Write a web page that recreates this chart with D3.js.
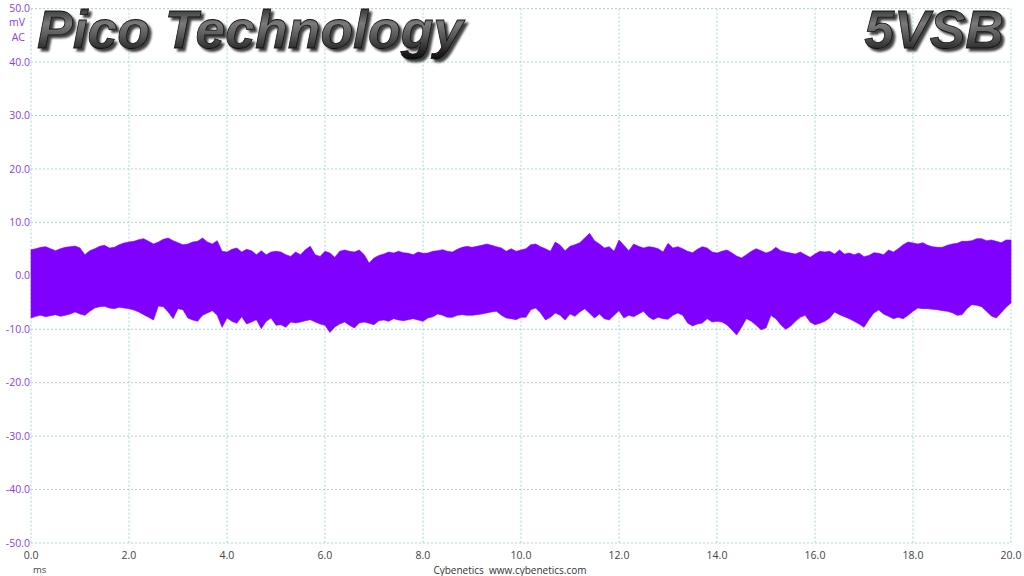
<!DOCTYPE html>
<html>
<head>
<meta charset="utf-8">
<script src="https://cdn.jsdelivr.net/npm/d3@7"></script>
<style>
  body { margin: 0; background: #fff; }
  svg { display: block; font-family: "Open Sans", "DejaVu Sans", sans-serif; }
</style>
</head>
<body>
<div id="chart"></div>
<script>
// time axis step 0.1 ms, 0 .. 20 ms
var timeStep = 0.1;

// upper envelope of the ripple band (mV)
var upper = [
  4.89, 5.07, 5.32, 5.45, 5.07, 4.70, 5.07, 5.32, 5.45, 5.57,
  5.20, 3.95, 4.70, 5.07, 5.51, 5.70, 5.20, 5.32, 5.82, 6.14,
  6.32, 6.45, 6.76, 6.95, 6.45, 5.95, 6.32, 6.82, 7.07, 6.58,
  6.20, 5.82, 5.95, 6.32, 6.45, 7.07, 6.32, 5.95, 6.58, 4.58,
  4.45, 4.95, 5.20, 4.45, 4.95, 4.70, 3.95, 4.70, 3.95, 4.45,
  4.58, 4.45, 3.95, 3.63, 4.45, 3.95, 4.89, 5.51, 3.95, 3.63,
  4.58, 4.26, 3.45, 4.58, 4.83, 4.58, 4.45, 4.83, 3.95, 2.38,
  3.32, 3.82, 4.07, 4.45, 4.26, 4.58, 4.32, 4.20, 3.95, 4.45,
  4.20, 4.26, 4.58, 4.70, 4.89, 4.58, 4.45, 4.95, 5.32, 5.51,
  5.32, 5.51, 5.70, 5.95, 5.70, 5.45, 5.20, 4.58, 5.07, 4.58,
  4.83, 5.07, 5.82, 5.95, 5.45, 5.07, 4.58, 6.32, 5.70, 4.70,
  5.51, 5.82, 6.20, 7.07, 7.95, 6.58, 5.95, 5.20, 5.45, 4.58,
  6.70, 5.70, 4.70, 5.95, 5.51, 5.20, 5.45, 5.32, 5.07, 4.45,
  6.07, 5.20, 5.45, 5.07, 4.58, 4.32, 4.95, 5.45, 5.20, 4.45,
  4.26, 4.58, 4.83, 4.32, 3.70, 3.32, 3.95, 4.58, 5.07, 4.70,
  4.26, 4.58, 5.32, 4.70, 4.45, 4.26, 4.07, 4.45, 3.95, 3.45,
  4.07, 4.58, 4.45, 4.58, 4.07, 4.83, 4.07, 4.26, 3.95, 4.26,
  3.57, 3.82, 4.32, 4.20, 3.95, 4.83, 4.45, 5.07, 5.82, 6.32,
  6.14, 5.95, 6.20, 5.70, 5.45, 5.32, 5.32, 5.70, 5.95, 6.07,
  6.45, 6.45, 6.58, 6.95, 6.95, 6.58, 6.70, 6.45, 6.20, 6.70,
  6.70
];

// lower envelope of the ripple band (mV)
var lower = [
  -7.90, -7.59, -7.40, -7.65, -7.46, -7.27, -7.59, -7.40, -7.15, -6.77,
  -7.15, -7.40, -6.65, -6.03, -5.78, -5.72, -6.03, -6.15, -5.90, -6.03,
  -6.15, -6.40, -6.77, -7.27, -7.77, -8.27, -5.65, -5.78, -6.77, -8.02,
  -6.15, -6.34, -7.90, -8.27, -8.52, -7.40, -6.96, -6.52, -7.40, -9.64,
  -7.90, -8.52, -8.89, -7.65, -9.02, -8.65, -8.21, -9.89, -8.52, -7.90,
  -9.27, -9.14, -9.64, -8.65, -8.83, -8.65, -8.40, -8.21, -8.65, -9.02,
  -9.27, -10.6, -9.60, -9.02, -8.65, -9.27, -9.77, -8.83, -8.65, -8.89,
  -9.14, -8.40, -8.27, -8.52, -8.02, -8.27, -8.40, -8.21, -8.02, -8.27,
  -8.52, -7.90, -7.65, -7.15, -7.40, -7.77, -7.77, -7.40, -7.27, -7.40,
  -7.40, -7.27, -7.15, -6.96, -6.77, -6.65, -7.40, -7.90, -8.02, -8.21,
  -7.77, -7.77, -6.34, -6.03, -6.96, -8.27, -7.77, -6.96, -7.40, -8.27,
  -7.15, -7.59, -6.77, -6.15, -7.02, -7.90, -7.15, -8.02, -8.27, -7.40,
  -6.52, -7.90, -7.40, -7.65, -7.15, -6.65, -7.65, -8.21, -7.77, -8.02,
  -8.15, -7.40, -6.96, -7.40, -8.83, -9.39, -9.02, -8.83, -8.02, -8.65,
  -8.52, -8.65, -9.14, -10.08, -11.1, -9.64, -8.02, -8.52, -9.27, -10.08,
  -9.77, -7.40, -8.02, -9.14, -10.02, -9.45, -8.52, -7.77, -7.40, -8.65,
  -9.14, -8.89, -8.52, -7.90, -6.77, -7.27, -7.65, -8.02, -8.52, -9.02,
  -9.64, -8.21, -6.96, -6.40, -7.15, -7.59, -8.02, -7.77, -8.02, -7.40,
  -6.65, -6.03, -6.15, -6.15, -6.27, -6.34, -6.52, -6.65, -6.90, -7.40,
  -7.27, -6.15, -5.40, -5.53, -5.78, -6.65, -7.52, -7.90, -6.90, -5.90,
  -5.09
];

var xTicks = [0, 2, 4, 6, 8, 10, 12, 14, 16, 18, 20];
var yTicks = [50, 40, 30, 20, 10, 0, -10, -20, -30, -40, -50];

var W = 1024, H = 576;
var margin = {top: 8.6, right: 13, bottom: 33, left: 31};
var width = W - margin.left - margin.right;
var height = H - margin.top - margin.bottom;

var x = d3.scaleLinear().domain([0, 20]).range([0, width]);
var y = d3.scaleLinear().domain([-50, 50]).range([height, 0]);

var svg = d3.select("#chart").append("svg")
  .attr("width", W)
  .attr("height", H);

// metallic title look: gradient fill + soft drop shadow
var defs = svg.append("defs");
var grad = defs.append("linearGradient")
  .attr("id", "metal")
  .attr("x1", 0).attr("y1", 0).attr("x2", 0).attr("y2", 1);
grad.append("stop").attr("offset", "0%").attr("stop-color", "#111");
grad.append("stop").attr("offset", "40%").attr("stop-color", "#7a7a7a");
grad.append("stop").attr("offset", "60%").attr("stop-color", "#5a5a5a");
grad.append("stop").attr("offset", "100%").attr("stop-color", "#0a0a0a");
var shadow = defs.append("filter").attr("id", "shadow")
  .attr("x", "-5%").attr("y", "-10%").attr("width", "115%").attr("height", "140%");
shadow.append("feGaussianBlur").attr("in", "SourceAlpha").attr("stdDeviation", 1.2).attr("result", "b");
shadow.append("feOffset").attr("in", "b").attr("dx", 2.5).attr("dy", 2.5).attr("result", "o");
shadow.append("feComponentTransfer").attr("in", "o").attr("result", "s")
  .append("feFuncA").attr("type", "linear").attr("slope", 0.75);
var merge = shadow.append("feMerge");
merge.append("feMergeNode").attr("in", "s");
merge.append("feMergeNode").attr("in", "SourceGraphic");

var g = svg.append("g")
  .attr("transform", "translate(" + margin.left + "," + margin.top + ")");

// grid
g.selectAll(".hgrid").data(yTicks).enter().append("line")
  .attr("x1", 0).attr("x2", width)
  .attr("y1", function(d) { return y(d); })
  .attr("y2", function(d) { return y(d); })
  .attr("stroke", "#a9d6d6").attr("stroke-width", 1)
  .attr("stroke-dasharray", "2,2");
g.selectAll(".vgrid").data(xTicks).enter().append("line")
  .attr("y1", 0).attr("y2", height)
  .attr("x1", function(d) { return x(d); })
  .attr("x2", function(d) { return x(d); })
  .attr("stroke", "#a9d6d6").attr("stroke-width", 1)
  .attr("stroke-dasharray", "2,2");

// ripple band
var band = upper.map(function(u, i) {
  return {t: i * timeStep, hi: u, lo: lower[i]};
});
var area = d3.area()
  .x(function(d) { return x(d.t); })
  .y0(function(d) { return y(d.lo); })
  .y1(function(d) { return y(d.hi); });
g.append("path")
  .datum(band)
  .attr("fill", "#7f00ff")
  .attr("stroke", "#7f00ff")
  .attr("stroke-width", 0.6)
  .attr("d", area);

// y axis labels
g.selectAll(".ylab").data(yTicks).enter().append("text")
  .attr("x", -1)
  .attr("y", function(d) { return y(d); })
  .attr("dy", "0.35em")
  .attr("text-anchor", "end")
  .attr("fill", "#8a3ee6")
  .attr("font-size", 10.5)
  .text(function(d) { return d.toFixed(1); });
g.append("text").attr("x", -6).attr("y", 14).attr("dy", "0.35em")
  .attr("text-anchor", "end").attr("fill", "#8a3ee6").attr("font-size", 10.5)
  .text("mV");
g.append("text").attr("x", -6).attr("y", 28.5).attr("dy", "0.35em")
  .attr("text-anchor", "end").attr("fill", "#8a3ee6").attr("font-size", 10.5)
  .text("AC");

// x axis labels
g.selectAll(".xlab").data(xTicks).enter().append("text")
  .attr("x", function(d) { return x(d); })
  .attr("y", height + 12)
  .attr("dy", "0.35em")
  .attr("text-anchor", "middle")
  .attr("fill", "#444")
  .attr("font-size", 10.5)
  .text(function(d) { return d.toFixed(1); });
g.append("text").attr("x", 2).attr("y", height + 27).attr("dy", "0.35em")
  .attr("fill", "#444").attr("font-size", 9.5).text("ms");
svg.append("text").attr("x", 510).attr("y", 570).attr("dy", "0.35em")
  .attr("text-anchor", "middle").attr("fill", "#333").attr("font-size", 10)
  .attr("xml:space", "preserve")
  .text("Cybenetics  www.cybenetics.com");

// titles
function title(txt, xPos, anchor) {
  svg.append("text").attr("x", xPos).attr("y", 48)
    .attr("text-anchor", anchor)
    .attr("font-family", "Liberation Sans, Arial, sans-serif")
    .attr("font-weight", "bold").attr("font-style", "italic")
    .attr("font-size", 53.5).attr("fill", "url(#metal)")
    .attr("stroke", "#111").attr("stroke-width", 0.8)
    .attr("filter", "url(#shadow)")
    .text(txt);
}
title("Pico Technology", 37, "start");
title("5VSB", 1004, "end");
</script>
</body>
</html>
